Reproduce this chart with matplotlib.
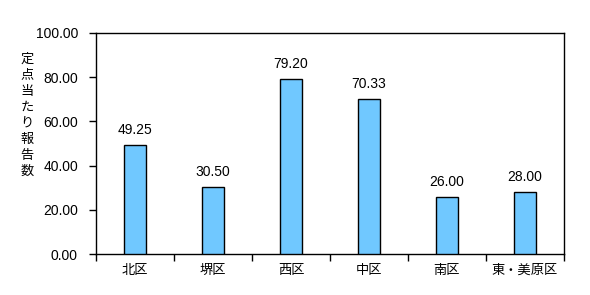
import matplotlib
matplotlib.use("Agg")
import matplotlib.pyplot as plt

plt.rcParams['font.family'] = ['Liberation Sans', 'Noto Sans CJK JP', 'DejaVu Sans']

categories = ['北区', '堺区', '西区', '中区', '南区', '東・美原区']
values = [49.25, 30.50, 79.20, 70.33, 26.00, 28.00]
yticks = [0, 20, 40, 60, 80, 100]
ylabel = '定点当たり報告数'

fig = plt.figure(figsize=(5.9, 2.95), dpi=100)
ax = fig.add_axes([96/590, 1-254/295, 468/590, 221/295])

x = list(range(len(categories)))
ax.bar(x, values, width=0.28, color='#70c8ff', edgecolor='black', linewidth=1.0, zorder=3)
for xi, v in zip(x, values):
    ax.text(xi, v + 3.5, f'{v:.2f}', ha='center', va='bottom', fontsize=10)

ax.set_xlim(-0.5, len(categories) - 0.5)
ax.set_ylim(0, 100)
ax.set_yticks(yticks)
ax.set_yticklabels([f'{t:.2f}' for t in yticks], fontsize=10)
ax.set_xticks([i + 0.5 for i in range(-1, len(categories))], minor=False)
ax.set_xticklabels([])
ax.set_xticks(x, minor=True)
ax.set_xticklabels(categories, minor=True, fontsize=9.5, family=['Noto Sans CJK JP', 'DejaVu Sans'])
ax.tick_params(axis='x', which='minor', length=0, pad=7)
ax.tick_params(axis='x', which='major', length=5, direction='out', width=1)
ax.tick_params(axis='y', length=5, direction='out', width=1, pad=8)
for s in ax.spines.values():
    s.set_linewidth(1.0)

fig.text(27/590, 1-115/295, '\n'.join(ylabel), ha='center', va='center', fontsize=9.5,
         family=['Noto Sans CJK JP', 'DejaVu Sans'], linespacing=1.3)

fig.savefig('out.png', dpi=100)
